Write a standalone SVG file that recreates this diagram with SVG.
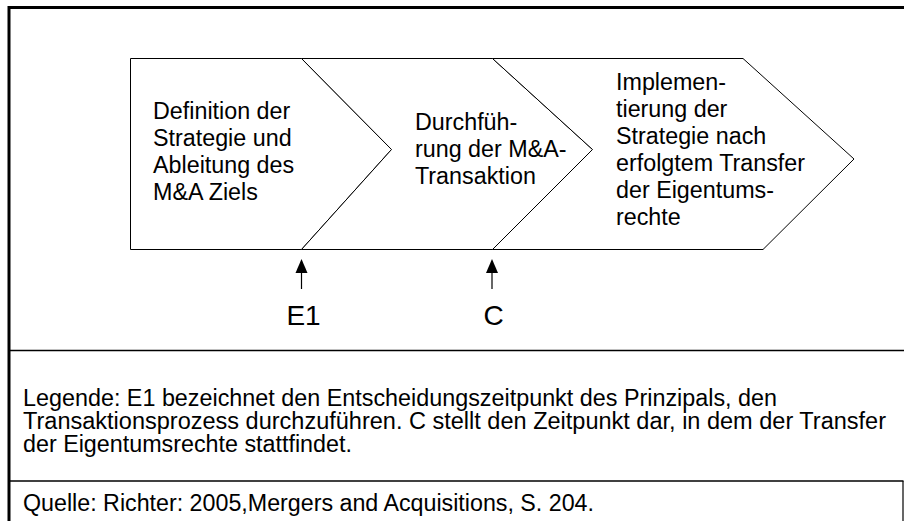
<svg xmlns="http://www.w3.org/2000/svg" width="904" height="521" viewBox="0 0 904 521">
<style>
  .shape { fill: #fff; stroke: #000; stroke-width: 1; stroke-linejoin: miter; }
  .t { font-family: "Liberation Sans", Arial, sans-serif; font-size: 23.3px; fill: #000; }
  .lbl { font-family: "Liberation Sans", Arial, sans-serif; font-size: 28px; fill: #000; text-anchor: middle; }
  .frame { stroke: #000; fill: none; }
  .conn line { stroke: #000; stroke-width: 1.2; }
  .conn polygon { fill: #000; }
</style>
<rect x="0" y="0" width="904" height="521" fill="#fff"/>
<g id="frame">
  <line class="frame" x1="9" y1="7.5" x2="904" y2="7.5" stroke-width="3"/>
  <line class="frame" x1="9" y1="6" x2="9" y2="521" stroke-width="3"/>
  <line class="frame" x1="9" y1="350.5" x2="904" y2="350.5" stroke-width="1.4"/>
  <line class="frame" x1="9" y1="481" x2="903.5" y2="481" stroke-width="1.4"/>
  <line class="frame" x1="903" y1="481" x2="903" y2="521" stroke-width="1.2"/>
</g>
<g id="step1">
  <path class="shape" d="M130.5,58.5 L301.5,58.5 L391.5,149.5 L301.5,249.5 L130.5,249.5 Z"/>
  <text class="t" x="153" y="119">Definition der</text>
  <text class="t" x="153" y="146">Strategie und</text>
  <text class="t" x="153" y="173">Ableitung des</text>
  <text class="t" x="153" y="200">M&amp;A Ziels</text>
</g>
<g id="step2">
  <path class="shape" d="M301.5,58.5 L492.5,58.5 L592.5,149.5 L492.5,249.5 L301.5,249.5 L391.5,149.5 Z"/>
  <text class="t" x="415" y="130">Durchfüh-</text>
  <text class="t" x="415" y="157">rung der M&amp;A-</text>
  <text class="t" x="415" y="184">Transaktion</text>
</g>
<g id="step3">
  <path class="shape" d="M492.5,58.5 L743,58.5 L854,159 L763,249.5 L492.5,249.5 L592.5,149.5 Z"/>
  <text class="t" x="616" y="90">Implemen-</text>
  <text class="t" x="616" y="117">tierung der</text>
  <text class="t" x="616" y="144">Strategie nach</text>
  <text class="t" x="616" y="171">erfolgtem Transfer</text>
  <text class="t" x="616" y="198">der Eigentums-</text>
  <text class="t" x="616" y="225">rechte</text>
</g>
<g id="connectors" class="conn">
  <line x1="301.5" y1="271" x2="301.5" y2="289"/>
  <polygon points="301.5,259 295.5,273 307.5,273"/>
  <line x1="492" y1="271" x2="492" y2="289"/>
  <polygon points="492,259 486,273 498,273"/>
</g>
<g id="label-E1">
  <text class="lbl" x="303.5" y="325">E1</text>
</g>
<g id="label-C">
  <text class="lbl" x="493.5" y="325">C</text>
</g>
<g id="legend">
  <text class="t" x="23" y="406" textLength="754" lengthAdjust="spacingAndGlyphs">Legende: E1 bezeichnet den Entscheidungszeitpunkt des Prinzipals, den</text>
  <text class="t" x="23" y="429" textLength="863" lengthAdjust="spacingAndGlyphs">Transaktionsprozess durchzuführen. C stellt den Zeitpunkt dar, in dem der Transfer</text>
  <text class="t" x="23" y="452">der Eigentumsrechte stattfindet.</text>
</g>
<g id="source">
  <text class="t" x="23" y="511" textLength="571" lengthAdjust="spacingAndGlyphs">Quelle: Richter: 2005,Mergers and Acquisitions, S. 204.</text>
</g>
</svg>
